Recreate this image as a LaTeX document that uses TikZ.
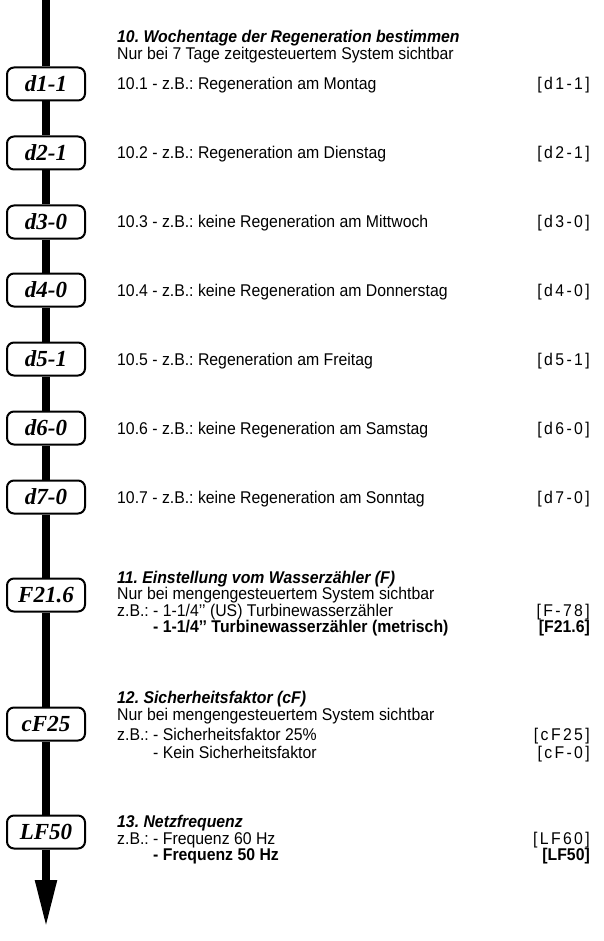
\documentclass[tikz,border=0pt]{standalone}
\usepackage{fontspec}
\setmainfont{Liberation Sans}[FakeStretch=0.93]
\newfontfamily\boxfont{Liberation Serif}
\usetikzlibrary{arrows.meta}
\frenchspacing
\begin{document}
\begin{tikzpicture}[x=1pt,y=-1pt,
  stepbox/.style={draw,line width=2pt,rounded corners=7pt,fill=white,
    minimum width=78pt,minimum height=33pt,inner sep=0pt,
    font=\boxfont\bfseries\itshape\fontsize{23}{23}\selectfont},
  flow/.style={line width=8pt},
  txt/.style={anchor=base west,inner sep=0pt,font=\fontsize{17}{17}\selectfont},
  ttl/.style={anchor=base west,inner sep=0pt,font=\fontsize{17}{17}\selectfont\bfseries\itshape},
  txtb/.style={anchor=base west,inner sep=0pt,font=\fontsize{17}{17}\selectfont\bfseries},
  code/.style={anchor=base east,inner sep=0pt,font=\fontsize{17}{17}\selectfont\addfontfeature{LetterSpace=14}},
  codeb/.style={anchor=base east,inner sep=0pt,font=\fontsize{17}{17}\selectfont\bfseries}]
\useasboundingbox (0,0) rectangle (604,941);

% flow boxes
\coordinate (top) at (46,0);
\coordinate (end) at (46,928);
\node[stepbox] (b1) at (46,84) {d1-1};
\node[stepbox] (b2) at (46,153) {d2-1};
\node[stepbox] (b3) at (46,222) {d3-0};
\node[stepbox] (b4) at (46,290) {d4-0};
\node[stepbox] (b5) at (46,359) {d5-1};
\node[stepbox] (b6) at (46,428) {d6-0};
\node[stepbox] (b7) at (46,497) {d7-0};
\node[stepbox] (b8) at (46,595) {F21.6};
\node[stepbox] (b9) at (46,724) {cF25};
\node[stepbox] (b10) at (46,832) {LF50};

\draw[flow] (top) -- (b1);
\draw[flow] (b1) -- (b2);
\draw[flow] (b2) -- (b3);
\draw[flow] (b3) -- (b4);
\draw[flow] (b4) -- (b5);
\draw[flow] (b5) -- (b6);
\draw[flow] (b6) -- (b7);
\draw[flow] (b7) -- (b8);
\draw[flow] (b8) -- (b9);
\draw[flow] (b9) -- (b10);
\draw[flow,-{Triangle[length=48pt 0 0,width=20pt 0 0]}] (b10) -- (end);

% section 10
\node[ttl] (t10) at (117,43) {10. Wochentage der Regeneration bestimmen};
\node[txt] (s10) at (117,59.5) {Nur bei 7 Tage zeitgesteuertem System sichtbar};
\node[txt] (i1) at (117,90) {10.1 - z.B.: Regeneration am Montag};
\node[code] (c1) at (590,90) {[d1-1]};
\node[txt] (i2) at (117,159) {10.2 - z.B.: Regeneration am Dienstag};
\node[code] (c2) at (590,159) {[d2-1]};
\node[txt] (i3) at (117,228) {10.3 - z.B.: keine Regeneration am Mittwoch};
\node[code] (c3) at (590,228) {[d3-0]};
\node[txt] (i4) at (117,296) {10.4 - z.B.: keine Regeneration am Donnerstag};
\node[code] (c4) at (590,296) {[d4-0]};
\node[txt] (i5) at (117,365) {10.5 - z.B.: Regeneration am Freitag};
\node[code] (c5) at (590,365) {[d5-1]};
\node[txt] (i6) at (117,434) {10.6 - z.B.: keine Regeneration am Samstag};
\node[code] (c6) at (590,434) {[d6-0]};
\node[txt] (i7) at (117,503) {10.7 - z.B.: keine Regeneration am Sonntag};
\node[code] (c7) at (590,503) {[d7-0]};

% section 11
\node[ttl] (t11) at (117,583) {11. Einstellung vom Wasserzähler (F)};
\node[txt] (s11) at (117,599.5) {Nur bei mengengesteuertem System sichtbar};
\node[txt] (i8) at (117,616) {z.B.: - 1-1/4’’ (US) Turbinewasserzähler};
\node[code] (c8) at (590,616) {[F-78]};
\node[txtb] (i9) at (117,632.5) {{\mdseries\phantom{z.B.: }}- 1-1/4’’ Turbinewasserzähler (metrisch)};
\node[codeb] (c9) at (590,632.5) {[F21.6]};

% section 12
\node[ttl] (t12) at (117,703) {12. Sicherheitsfaktor (cF)};
\node[txt] (s12) at (117,720) {Nur bei mengengesteuertem System sichtbar};
\node[txt] (i10) at (117,740) {z.B.: - Sicherheitsfaktor 25\%};
\node[code] (c10) at (590,740) {[cF25]};
\node[txt] (i11) at (117,758) {\phantom{z.B.: }- Kein Sicherheitsfaktor};
\node[code] (c11) at (590,758) {[cF-0]};

% section 13
\node[ttl] (t13) at (117,827) {13. Netzfrequenz};
\node[txt] (i12) at (117,844) {z.B.: - Frequenz 60 Hz};
\node[code] (c12) at (590,844) {[LF60]};
\node[txtb] (i13) at (117,860.5) {{\mdseries\phantom{z.B.: }}- Frequenz 50 Hz};
\node[codeb] (c13) at (590,860.5) {[LF50]};
\end{tikzpicture}
\end{document}
